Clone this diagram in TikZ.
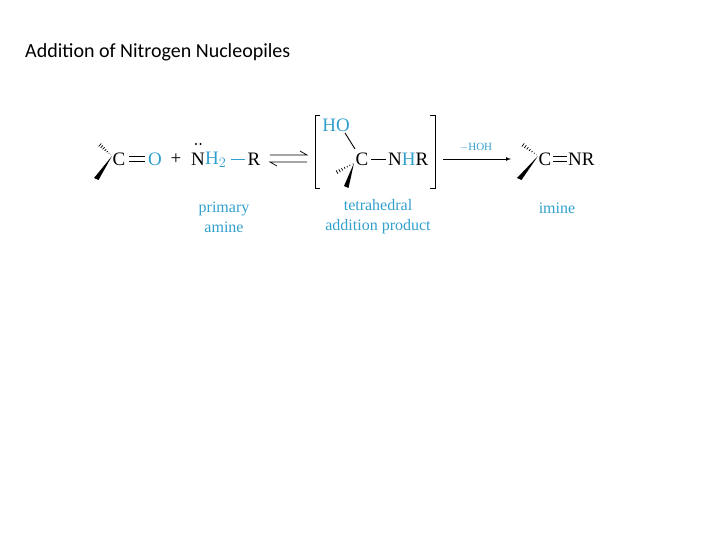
\documentclass[tikz,border=0pt]{standalone}
\usepackage{fontspec}
\setmainfont{Liberation Serif}
\newfontfamily\titlefont{Carlito}
\definecolor{cb}{RGB}{50,160,205}
\begin{document}
\begin{tikzpicture}[x=1pt,y=-1pt,
  ch/.style={inner sep=0pt,font=\fontsize{19}{19}\selectfont},
  lab/.style={inner sep=0pt,text=cb,align=center,font=\fontsize{16}{20}\selectfont},
  bond/.style={line width=0.9pt},
  hash/.style={line width=0.7pt}]
\useasboundingbox (0,0) rectangle (720,540);
\node[anchor=west,inner sep=0pt,font=\titlefont\fontsize{20}{20}\selectfont] (title) at (25,52) {Addition of Nitrogen Nucleopiles};
% carbonyl
\node[ch] (c1) at (119,159) {C};
\node[ch,text=cb] (o1) at (155,159) {O};
\draw[bond] (129,156) -- (145,156);
\draw[bond] (129,161) -- (145,161);
\node[ch] (plus) at (176,159) {+};
\node[ch] (n1) at (198,159) {N};
\fill (196,144) circle (1.2) (200.5,144) circle (1.2);
\node[ch,text=cb,anchor=west] (h2) at (205,160) {H$_2$};
\node[ch] (r1) at (254,159) {R};
\draw[cb,bond] (231,159) -- (245,159);
% wedges
\foreach \cx/\cy/\hx/\hy/\wx/\wy in {112/156/100/145/97/178, 354/163/337/172/347/186, 538/156/523/145/520/178}{
  \pgfmathsetmacro\ang{atan2(\cy-\hy,\hx-\cx)}
  \pgfmathsetmacro\len{veclen(\hy-\cy,\hx-\cx)}
  \begin{scope}[shift={(\cx,\cy)},rotate=\ang]
  \foreach \t in {0.1,0.25,...,1}{
    \draw[hash] (\t*\len,-2*\t) -- (\t*\len,2*\t);
  }
  \end{scope}
  \fill (\cx,\cy) -- (\wx-3,\wy) -- (\wx+1.5,\wy+2) -- cycle;
}
% equilibrium
\draw[line width=0.7pt] (270,155) -- (307,155) -- (300,151);
\draw[line width=0.7pt] (307,162) -- (270,162) -- (277,166);
% bracket
\draw[line width=0.8pt] (320,115) -- (315,115) -- (315,188) -- (320,188);
\draw[line width=0.8pt] (430,115) -- (435,115) -- (435,188) -- (430,188);
\node[ch,text=cb] (ho) at (336,125) {HO};
\node[ch] (c2) at (362,159) {C};
\draw[bond] (345,133) -- (355,149);
\draw[bond] (371,159) -- (386,159);
\node[ch,anchor=west] (nhr) at (388,159) {N\textcolor{cb}{H}R};
% arrow
\draw[line width=0.7pt,-latex] (443,159) -- (511,159);
\node[inner sep=0pt,text=cb,font=\fontsize{11}{11}\selectfont] (hoh) at (476,147) {$-$HOH};
% imine
\node[ch] (c3) at (545,159) {C};
\draw[bond] (553,156) -- (567,156);
\draw[bond] (553,161) -- (567,161);
\node[ch,anchor=west] (nr) at (568,159) {NR};
% labels
\node[lab] (l1) at (224,217) {primary\\amine};
\node[lab] (l2) at (378,217) {tetrahedral\\addition product};
\node[lab] (l3) at (557,208) {imine};
\end{tikzpicture}
\end{document}
